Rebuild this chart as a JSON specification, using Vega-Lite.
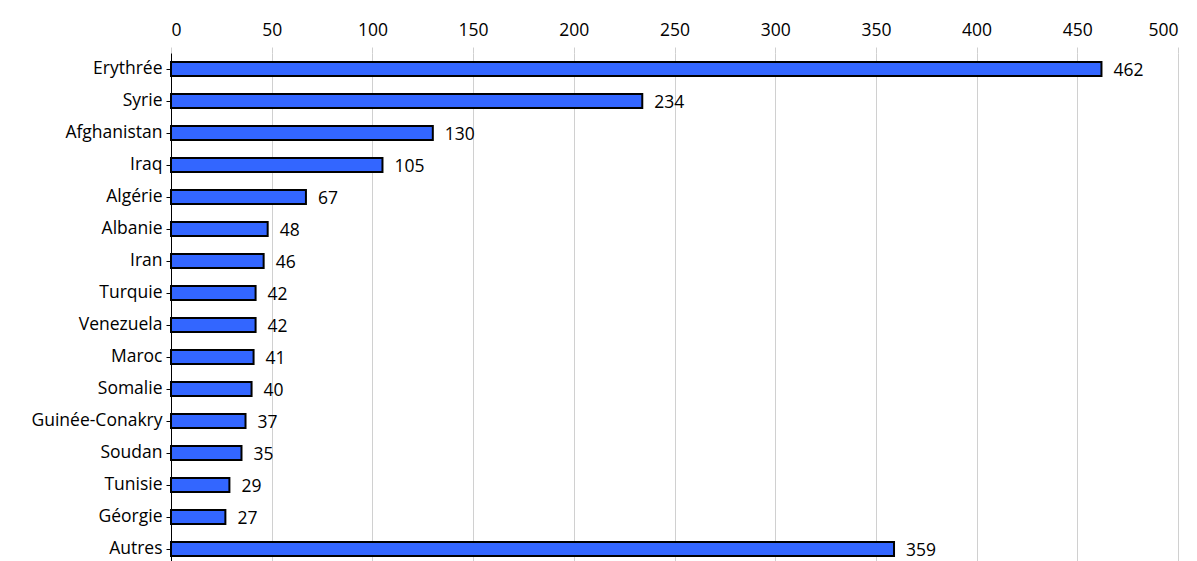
{
  "$schema": "https://vega.github.io/schema/vega-lite/v6.json",
  "autosize": "none",
  "width": 1007,
  "height": 512,
  "padding": {"left": 171, "top": 53, "right": 19, "bottom": 0},
  "background": "white",
  "config": {"view": {"stroke": null}, "font": "Open Sans"},
  "data": {"values": [
    {"pays": "Erythrée", "n": 462},
    {"pays": "Syrie", "n": 234},
    {"pays": "Afghanistan", "n": 130},
    {"pays": "Iraq", "n": 105},
    {"pays": "Algérie", "n": 67},
    {"pays": "Albanie", "n": 48},
    {"pays": "Iran", "n": 46},
    {"pays": "Turquie", "n": 42},
    {"pays": "Venezuela", "n": 42},
    {"pays": "Maroc", "n": 41},
    {"pays": "Somalie", "n": 40},
    {"pays": "Guinée-Conakry", "n": 37},
    {"pays": "Soudan", "n": 35},
    {"pays": "Tunisie", "n": 29},
    {"pays": "Géorgie", "n": 27},
    {"pays": "Autres", "n": 359}
  ]},
  "encoding": {
    "y": {"field": "pays", "type": "nominal", "sort": null, "title": null,
      "scale": {"paddingInner": 0.56, "paddingOuter": 0.28},
      "axis": {"labelFontSize": 17.5, "labelFontWeight": "normal", "labelColor": "black", "domainColor": "black", "tickColor": "black", "tickSize": 5, "labelPadding": 4}},
    "x": {"field": "n", "type": "quantitative", "title": null,
      "scale": {"domain": [0, 500]},
      "axis": {"orient": "top", "values": [0,50,100,150,200,250,300,350,400,450,500], "labelFontSize": 17.5, "labelFontWeight": "normal", "labelColor": "black", "domain": false, "ticks": true, "tickColor": "#d0d0d0", "tickSize": 6, "gridColor": "#d0d0d0", "labelPadding": 8}}
  },
  "layer": [
    {"mark": {"type": "bar", "color": "#3366ff", "stroke": "black", "strokeWidth": 2}},
    {"mark": {"type": "text", "align": "left", "dx": 12, "dy": 2, "fontSize": 17.5, "color": "black"},
     "encoding": {"text": {"field": "n", "type": "quantitative"}}}
  ]
}
